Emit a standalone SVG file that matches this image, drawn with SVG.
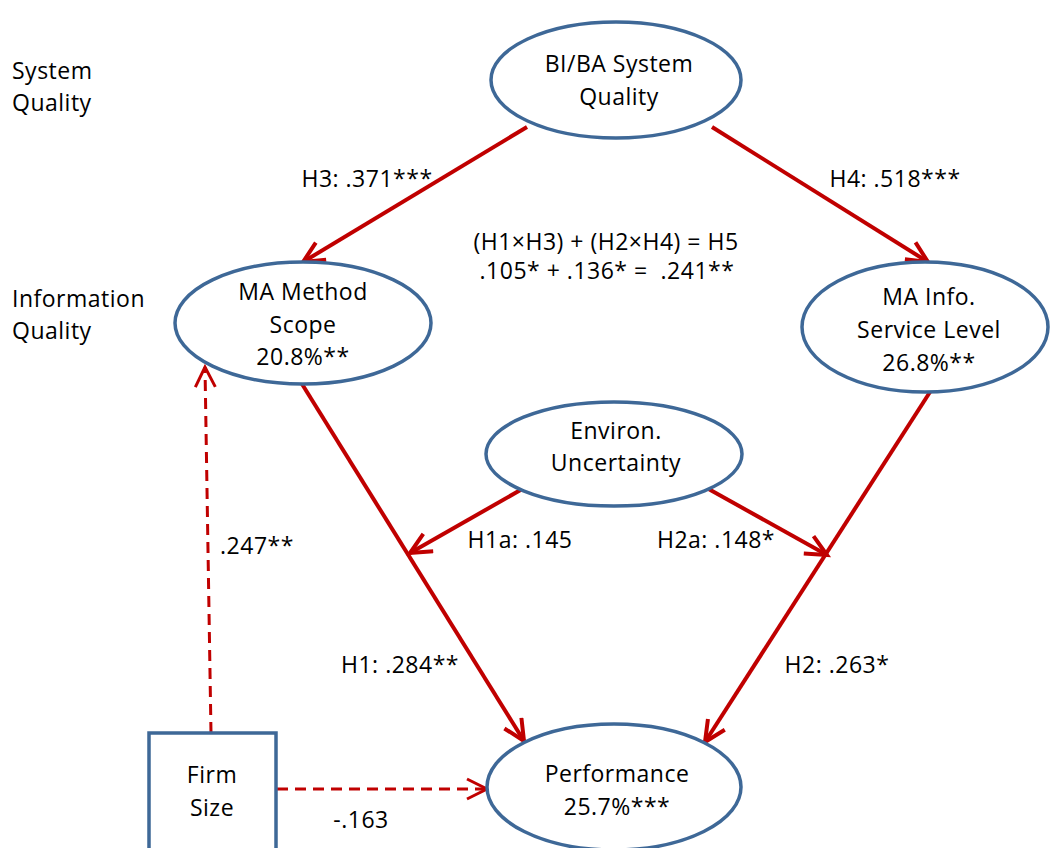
<svg xmlns="http://www.w3.org/2000/svg" width="1050" height="848" viewBox="0 0 1050 848">
<defs>
<style>
text{font-family:"Open Sans","Noto Sans","Liberation Sans",sans-serif;font-size:23px;fill:#000;letter-spacing:0.5px}
.m{text-anchor:middle}
.node{fill:#fff;stroke:#3E6897;stroke-width:3.5}
.solid{stroke:#C00000;stroke-width:4;fill:none}
.dash{stroke:#C00000;stroke-width:3;fill:none;stroke-dasharray:11 7}
</style>
<marker id="ah" markerUnits="userSpaceOnUse" markerWidth="30" markerHeight="30" refX="23" refY="12" orient="auto">
<path d="M2,2 L23,12 L2,22" fill="none" stroke="#C00000" stroke-width="4" stroke-linejoin="miter"/>
</marker>
<marker id="ahd" markerUnits="userSpaceOnUse" markerWidth="30" markerHeight="30" refX="22" refY="12" orient="auto">
<path d="M2,2 L22,12 L2,22" fill="none" stroke="#C00000" stroke-width="3"/>
</marker>
</defs>
<rect width="1050" height="848" fill="#fff"/>
<g id="level-labels">
<text x="12" y="79">System</text>
<text x="12" y="111">Quality</text>
<text x="12" y="307">Information</text>
<text x="12" y="339">Quality</text>
</g>
<g id="connectors">
<line class="solid" x1="527" y1="127" x2="303" y2="262" marker-end="url(#ah)"/>
<line class="solid" x1="712" y1="127" x2="928" y2="262" marker-end="url(#ah)"/>
<line class="solid" x1="302" y1="384" x2="524" y2="741" marker-end="url(#ah)"/>
<line class="solid" x1="930" y1="392" x2="705" y2="742" marker-end="url(#ah)"/>
<line class="solid" x1="524" y1="488" x2="410" y2="553" marker-end="url(#ah)"/>
<line class="solid" x1="705" y1="487" x2="827" y2="555" marker-end="url(#ah)"/>
<line class="dash" x1="211" y1="733" x2="205" y2="367" marker-end="url(#ahd)"/>
<line class="dash" x1="277" y1="789" x2="487" y2="789" marker-end="url(#ahd)"/>
</g>
<g id="edge-labels">
<text class="m" x="367" y="187">H3: .371***</text>
<text class="m" x="895" y="187">H4: .518***</text>
<text class="m" x="606" y="250">(H1×H3) + (H2×H4) = H5</text>
<text class="m" x="607" y="279">.105* + .136* =&#160; .241**</text>
<text class="m" x="520" y="548">H1a: .145</text>
<text class="m" x="716" y="548">H2a: .148*</text>
<text class="m" x="257" y="554">.247**</text>
<text class="m" x="400" y="673">H1: .284**</text>
<text class="m" x="837" y="673">H2: .263*</text>
<text class="m" x="361" y="828">-.163</text>
</g>
<g id="bi-ba-system-quality">
<ellipse class="node" cx="616" cy="80" rx="125" ry="58"/>
<text class="m" x="619" y="72">BI/BA System</text>
<text class="m" x="619" y="105">Quality</text>
</g>
<g id="ma-method-scope">
<ellipse class="node" cx="303" cy="323" rx="128" ry="61"/>
<text class="m" x="303" y="300">MA Method</text>
<text class="m" x="303" y="333">Scope</text>
<text class="m" x="303" y="365">20.8%**</text>
</g>
<g id="ma-info-service-level">
<ellipse class="node" cx="925" cy="327" rx="123" ry="65"/>
<text class="m" x="929" y="305">MA Info.</text>
<text class="m" x="929" y="338">Service Level</text>
<text class="m" x="929" y="371">26.8%**</text>
</g>
<g id="environ-uncertainty">
<ellipse class="node" cx="614" cy="454" rx="128" ry="52"/>
<text class="m" x="616" y="439">Environ.</text>
<text class="m" x="616" y="471">Uncertainty</text>
</g>
<g id="performance">
<ellipse class="node" cx="614" cy="787" rx="127" ry="63"/>
<text class="m" x="617" y="782">Performance</text>
<text class="m" x="617" y="815">25.7%***</text>
</g>
<g id="firm-size">
<rect class="node" x="149" y="733" width="127" height="118" stroke-width="4"/>
<text class="m" x="212" y="783">Firm</text>
<text class="m" x="212" y="816">Size</text>
</g>
</svg>
